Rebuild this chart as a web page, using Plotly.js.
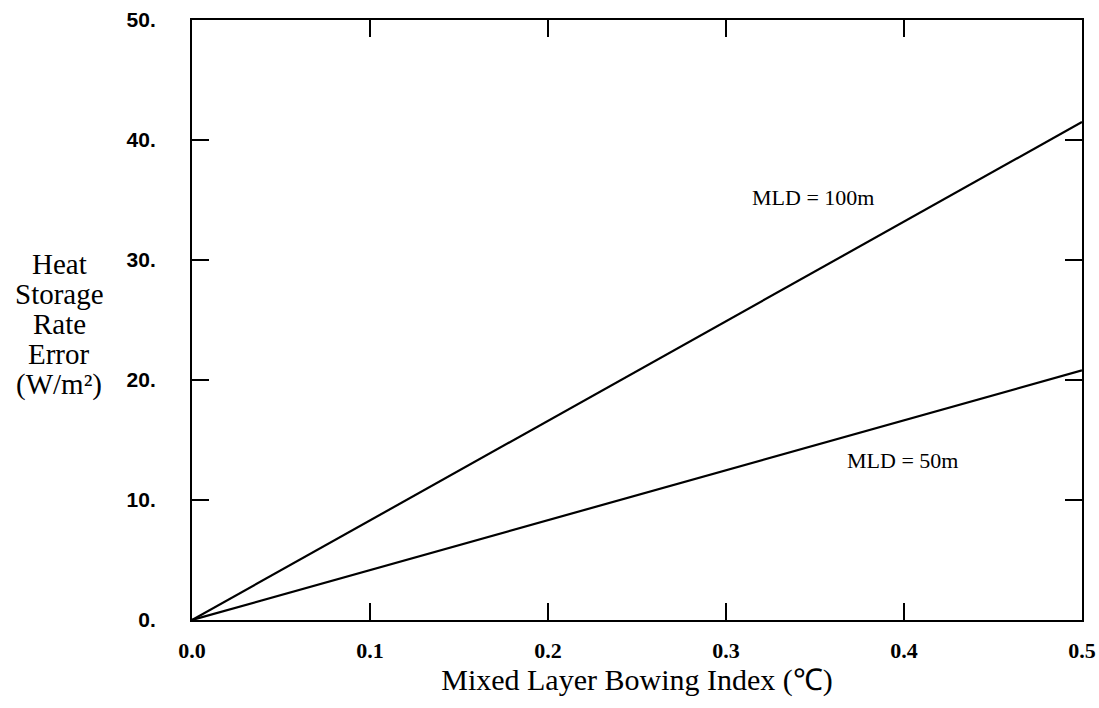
<!DOCTYPE html>
<html>
<head>
<meta charset="utf-8">
<script src="https://cdn.plot.ly/plotly-3.0.1.min.js"></script>
<style>html,body{margin:0;padding:0;background:#fff;}#chart{width:1099px;height:708px;}</style>
</head>
<body>
<div id="chart"></div>
<script>
// Data
const bowingIndex = [0.0, 0.5];
const mld100 = [0.0, 41.5];
const mld50 = [0.0, 20.8];
const seriesNames = ["MLD = 100m", "MLD = 50m"];
const xTickVals = [0.0, 0.1, 0.2, 0.3, 0.4, 0.5];
const xTickText = ["0.0", "0.1", "0.2", "0.3", "0.4", "0.5"];
const yTickVals = [0, 10, 20, 30, 40, 50];
const yTickText = ["0.", "10.", "20.", "30.", "40.", "50."];
const yTitleLines = ["Heat", "Storage", "Rate", "Error", "(W/m²)"];
const xTitle = "Mixed Layer Bowing Index (℃)";
const labelPos = [{x: 0.349, y: 35.2}, {x: 0.399, y: 13.3}];

const serif = "Liberation Serif, Times New Roman, serif";
const traces = [
  {x: bowingIndex, y: mld100, mode: "lines", name: seriesNames[0], line: {color: "#000", width: 2.2}},
  {x: bowingIndex, y: mld50, mode: "lines", name: seriesNames[1], line: {color: "#000", width: 2.2}}
];

const annotations = [];
seriesNames.forEach((n, i) => annotations.push({
  x: labelPos[i].x, y: labelPos[i].y, xref: "x", yref: "y", text: n, showarrow: false,
  font: {family: serif, size: 22, color: "#000"}, xanchor: "center", yanchor: "middle"
}));
// left multi-line axis title, one annotation per line
const lineCenters = [262, 292, 322, 352, 382];
yTitleLines.forEach((t, i) => annotations.push({
  x: (59 - 192) / 890, y: (620 - lineCenters[i] - 2) / 600, xref: "paper", yref: "paper",
  text: t, showarrow: false,
  font: {family: serif, size: 29, color: "#000"}, xanchor: "center", yanchor: "middle"
}));

const layout = {
  width: 1099, height: 708,
  margin: {l: 192, r: 17, t: 20, b: 88},
  paper_bgcolor: "#fff", plot_bgcolor: "#fff",
  showlegend: false,
  xaxis: {
    range: [0, 0.5], tickvals: xTickVals, ticktext: xTickText,
    showgrid: false, zeroline: false, showline: true, linecolor: "#000", linewidth: 2,
    mirror: "allticks", ticks: "inside", ticklen: 17, tickwidth: 2, tickcolor: "#000",
    ticklabelstandoff: 10,
    tickfont: {family: serif, size: 22, color: "#000", weight: "bold"},
    title: {text: xTitle, font: {family: serif, size: 30, color: "#000"}, standoff: 6}
  },
  yaxis: {
    range: [0, 50], tickvals: yTickVals, ticktext: yTickText,
    showgrid: false, zeroline: false, showline: true, linecolor: "#000", linewidth: 2,
    mirror: "allticks", ticks: "inside", ticklen: 17, tickwidth: 2, tickcolor: "#000",
    ticklabelstandoff: 30,
    tickfont: {family: "Liberation Sans, Arial, sans-serif", size: 21, color: "#000", weight: "bold"}
  },
  annotations: annotations
};
Plotly.newPlot("chart", traces, layout, {displayModeBar: false, staticPlot: true});
</script>
</body>
</html>
